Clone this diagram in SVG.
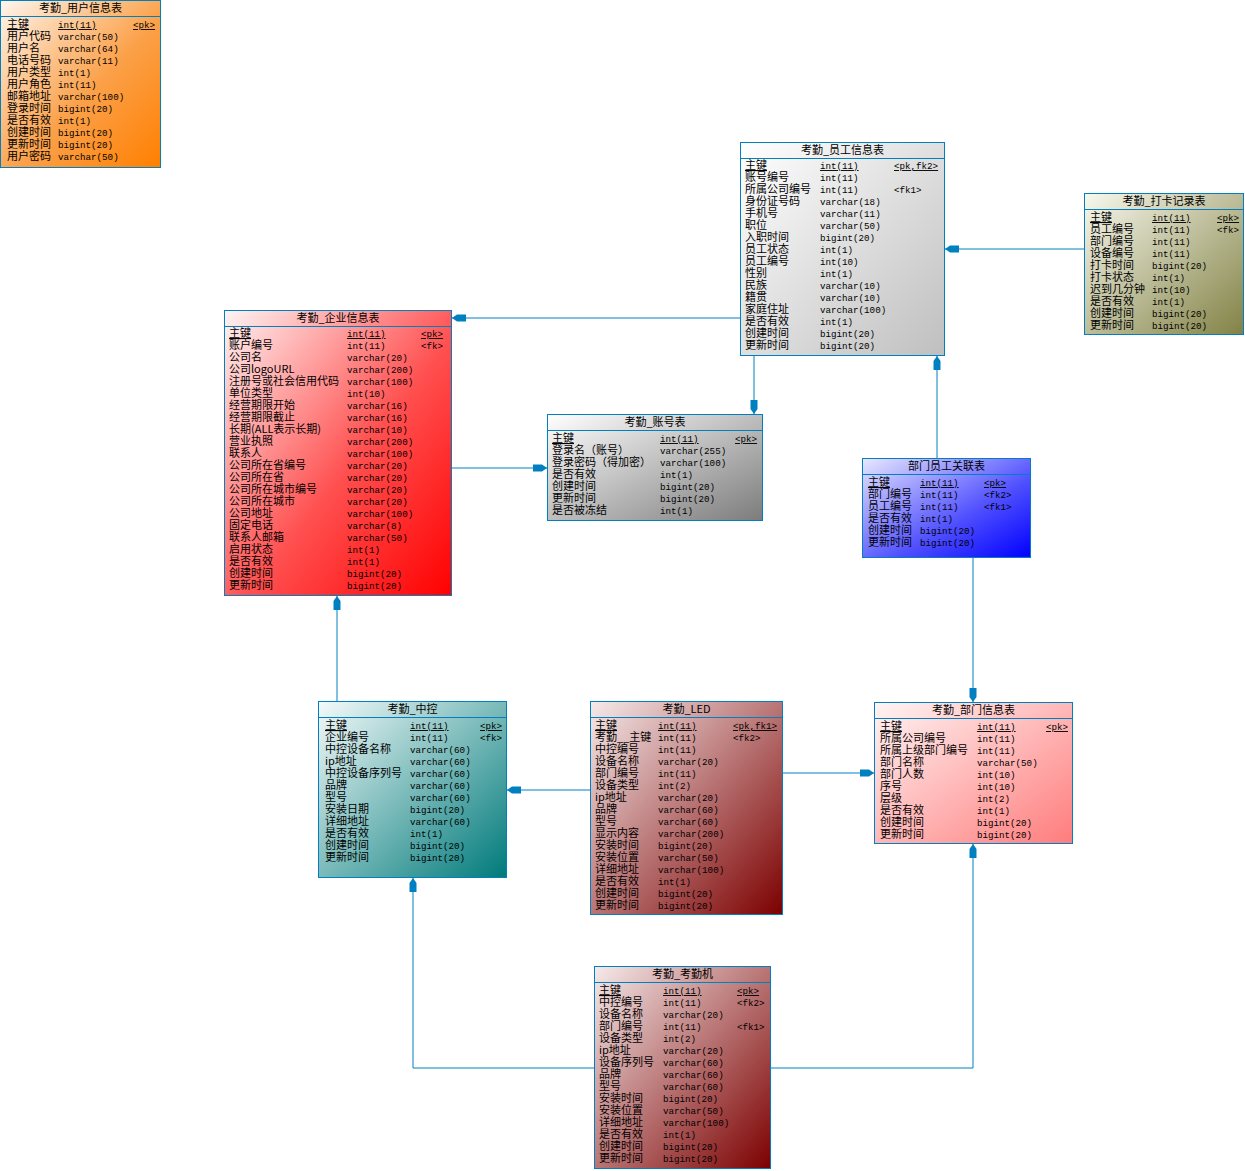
<svg xmlns="http://www.w3.org/2000/svg" width="1245" height="1171" viewBox="0 0 1245 1171">
<style>
.box{stroke:#0080c0;stroke-width:1}
.sep{stroke:#0080c0;stroke-width:1}
.t{font-family:"Noto Sans CJK SC","Liberation Sans",sans-serif;font-size:11px;fill:#000;text-anchor:middle}
.n{font-family:"Noto Sans CJK SC","Liberation Sans",sans-serif;font-size:11px;fill:#000}
.ty,.k{font-family:"Liberation Mono","Noto Sans CJK SC",monospace;font-size:9.2px;fill:#000}
.u{text-decoration:underline}
.c{fill:none;stroke:#0080c0;stroke-width:1}
</style>
<defs>
<linearGradient id="gOr" x1="0" y1="0" x2="1" y2="1"><stop offset="0" stop-color="#fff6ee"/><stop offset="0.55" stop-color="#fba14a"/><stop offset="1" stop-color="#ff7f00"/></linearGradient>
<linearGradient id="gGy" x1="0" y1="0" x2="1" y2="1"><stop offset="0" stop-color="#ffffff"/><stop offset="1" stop-color="#bfbfbf"/></linearGradient>
<linearGradient id="gOl" x1="0" y1="0" x2="1" y2="1"><stop offset="0" stop-color="#f8f8ee"/><stop offset="1" stop-color="#828246"/></linearGradient>
<linearGradient id="gRd" x1="0" y1="0" x2="1" y2="1"><stop offset="0" stop-color="#fff4f4"/><stop offset="0.55" stop-color="#ff5050"/><stop offset="1" stop-color="#ff0000"/></linearGradient>
<linearGradient id="gDg" x1="0" y1="0" x2="1" y2="1"><stop offset="0" stop-color="#ffffff"/><stop offset="1" stop-color="#7c7c7c"/></linearGradient>
<linearGradient id="gBl" x1="0" y1="0" x2="1" y2="1"><stop offset="0" stop-color="#e8e8ff"/><stop offset="0.6" stop-color="#5050ff"/><stop offset="1" stop-color="#0000ff"/></linearGradient>
<linearGradient id="gTl" x1="0" y1="0" x2="1" y2="1"><stop offset="0" stop-color="#f4fafa"/><stop offset="1" stop-color="#007a7a"/></linearGradient>
<linearGradient id="gMr" x1="0" y1="0" x2="1" y2="1"><stop offset="0" stop-color="#f6eaea"/><stop offset="1" stop-color="#7c0000"/></linearGradient>
<linearGradient id="gPk" x1="0" y1="0" x2="1" y2="1"><stop offset="0" stop-color="#fff4f4"/><stop offset="1" stop-color="#ff7c7c"/></linearGradient>
<marker id="ar" viewBox="0 0 14 8" refX="14" refY="4" markerWidth="14" markerHeight="8" markerUnits="userSpaceOnUse" orient="auto">
<path d="M14,4 L9,0.5 L0,0.5 L0,7.5 L9,7.5 Z" fill="#0080c0"/>
</marker>
</defs>
<rect width="1245" height="1171" fill="#ffffff"/>

<g id="connectors">
<path class="c" d="M740,318 H452" marker-end="url(#ar)"/>
<path class="c" d="M452,468 H547" marker-end="url(#ar)"/>
<path class="c" d="M754,356 V414" marker-end="url(#ar)"/>
<path class="c" d="M1084,249 H945" marker-end="url(#ar)"/>
<path class="c" d="M937,458 V356" marker-end="url(#ar)"/>
<path class="c" d="M973,558 V702" marker-end="url(#ar)"/>
<path class="c" d="M337,701 V596" marker-end="url(#ar)"/>
<path class="c" d="M590,790 H507" marker-end="url(#ar)"/>
<path class="c" d="M783,773 H874" marker-end="url(#ar)"/>
<path class="c" d="M594,1068 H413 V878" marker-end="url(#ar)"/>
<path class="c" d="M771,1068 H973 V844" marker-end="url(#ar)"/>
</g>

<g id="users">
<rect class="box" x="0.5" y="0.5" width="160" height="167" fill="url(#gOr)"/>
<line class="sep" x1="0.5" y1="16.5" x2="160.5" y2="16.5"/>
<text class="t" x="80.5" y="12">考勤_用户信息表</text>
<g class="n"><text x="7" y="28" class="u">主键</text><text x="7" y="40">用户代码</text><text x="7" y="52">用户名</text><text x="7" y="64">电话号码</text><text x="7" y="76">用户类型</text><text x="7" y="88">用户角色</text><text x="7" y="100">邮箱地址</text><text x="7" y="112">登录时间</text><text x="7" y="124">是否有效</text><text x="7" y="136">创建时间</text><text x="7" y="148">更新时间</text><text x="7" y="160">用户密码</text></g>
<g class="ty"><text x="58" y="28" class="u">int(11)</text><text x="58" y="40">varchar(50)</text><text x="58" y="52">varchar(64)</text><text x="58" y="64">varchar(11)</text><text x="58" y="76">int(1)</text><text x="58" y="88">int(11)</text><text x="58" y="100">varchar(100)</text><text x="58" y="112">bigint(20)</text><text x="58" y="124">int(1)</text><text x="58" y="136">bigint(20)</text><text x="58" y="148">bigint(20)</text><text x="58" y="160">varchar(50)</text></g>
<g class="k"><text x="133" y="28" class="u">&lt;pk&gt;</text></g>
</g>

<g id="employee">
<rect class="box" x="740.5" y="142.5" width="204" height="213" fill="url(#gGy)"/>
<line class="sep" x1="740.5" y1="158.5" x2="944.5" y2="158.5"/>
<text class="t" x="842.5" y="154">考勤_员工信息表</text>
<g class="n"><text x="745" y="169" class="u">主键</text><text x="745" y="181">账号编号</text><text x="745" y="193">所属公司编号</text><text x="745" y="205">身份证号码</text><text x="745" y="217">手机号</text><text x="745" y="229">职位</text><text x="745" y="241">入职时间</text><text x="745" y="253">员工状态</text><text x="745" y="265">员工编号</text><text x="745" y="277">性别</text><text x="745" y="289">民族</text><text x="745" y="301">籍贯</text><text x="745" y="313">家庭住址</text><text x="745" y="325">是否有效</text><text x="745" y="337">创建时间</text><text x="745" y="349">更新时间</text></g>
<g class="ty"><text x="820" y="169" class="u">int(11)</text><text x="820" y="181">int(11)</text><text x="820" y="193">int(11)</text><text x="820" y="205">varchar(18)</text><text x="820" y="217">varchar(11)</text><text x="820" y="229">varchar(50)</text><text x="820" y="241">bigint(20)</text><text x="820" y="253">int(1)</text><text x="820" y="265">int(10)</text><text x="820" y="277">int(1)</text><text x="820" y="289">varchar(10)</text><text x="820" y="301">varchar(10)</text><text x="820" y="313">varchar(100)</text><text x="820" y="325">int(1)</text><text x="820" y="337">bigint(20)</text><text x="820" y="349">bigint(20)</text></g>
<g class="k"><text x="894" y="169" class="u">&lt;pk,fk2&gt;</text><text x="894" y="193">&lt;fk1&gt;</text></g>
</g>

<g id="punch">
<rect class="box" x="1084.5" y="193.5" width="159" height="141" fill="url(#gOl)"/>
<line class="sep" x1="1084.5" y1="209.5" x2="1243.5" y2="209.5"/>
<text class="t" x="1164" y="205">考勤_打卡记录表</text>
<g class="n"><text x="1090" y="221" class="u">主键</text><text x="1090" y="233">员工编号</text><text x="1090" y="245">部门编号</text><text x="1090" y="257">设备编号</text><text x="1090" y="269">打卡时间</text><text x="1090" y="281">打卡状态</text><text x="1090" y="293">迟到几分钟</text><text x="1090" y="305">是否有效</text><text x="1090" y="317">创建时间</text><text x="1090" y="329">更新时间</text></g>
<g class="ty"><text x="1152" y="221" class="u">int(11)</text><text x="1152" y="233">int(11)</text><text x="1152" y="245">int(11)</text><text x="1152" y="257">int(11)</text><text x="1152" y="269">bigint(20)</text><text x="1152" y="281">int(1)</text><text x="1152" y="293">int(10)</text><text x="1152" y="305">int(1)</text><text x="1152" y="317">bigint(20)</text><text x="1152" y="329">bigint(20)</text></g>
<g class="k"><text x="1217" y="221" class="u">&lt;pk&gt;</text><text x="1217" y="233">&lt;fk&gt;</text></g>
</g>

<g id="enterprise">
<rect class="box" x="224.5" y="310.5" width="227" height="285" fill="url(#gRd)"/>
<line class="sep" x1="224.5" y1="326.5" x2="451.5" y2="326.5"/>
<text class="t" x="338" y="322">考勤_企业信息表</text>
<g class="n"><text x="229" y="337" class="u">主键</text><text x="229" y="349">账户编号</text><text x="229" y="361">公司名</text><text x="229" y="373">公司logoURL</text><text x="229" y="385">注册号或社会信用代码</text><text x="229" y="397">单位类型</text><text x="229" y="409">经营期限开始</text><text x="229" y="421">经营期限截止</text><text x="229" y="433">长期(ALL表示长期)</text><text x="229" y="445">营业执照</text><text x="229" y="457">联系人</text><text x="229" y="469">公司所在省编号</text><text x="229" y="481">公司所在省</text><text x="229" y="493">公司所在城市编号</text><text x="229" y="505">公司所在城市</text><text x="229" y="517">公司地址</text><text x="229" y="529">固定电话</text><text x="229" y="541">联系人邮箱</text><text x="229" y="553">启用状态</text><text x="229" y="565">是否有效</text><text x="229" y="577">创建时间</text><text x="229" y="589">更新时间</text></g>
<g class="ty"><text x="347" y="337" class="u">int(11)</text><text x="347" y="349">int(11)</text><text x="347" y="361">varchar(20)</text><text x="347" y="373">varchar(200)</text><text x="347" y="385">varchar(100)</text><text x="347" y="397">int(10)</text><text x="347" y="409">varchar(16)</text><text x="347" y="421">varchar(16)</text><text x="347" y="433">varchar(10)</text><text x="347" y="445">varchar(200)</text><text x="347" y="457">varchar(100)</text><text x="347" y="469">varchar(20)</text><text x="347" y="481">varchar(20)</text><text x="347" y="493">varchar(20)</text><text x="347" y="505">varchar(20)</text><text x="347" y="517">varchar(100)</text><text x="347" y="529">varchar(8)</text><text x="347" y="541">varchar(50)</text><text x="347" y="553">int(1)</text><text x="347" y="565">int(1)</text><text x="347" y="577">bigint(20)</text><text x="347" y="589">bigint(20)</text></g>
<g class="k"><text x="421" y="337" class="u">&lt;pk&gt;</text><text x="421" y="349">&lt;fk&gt;</text></g>
</g>

<g id="account">
<rect class="box" x="547.5" y="414.5" width="215" height="106" fill="url(#gDg)"/>
<line class="sep" x1="547.5" y1="430.5" x2="762.5" y2="430.5"/>
<text class="t" x="655" y="426">考勤_账号表</text>
<g class="n"><text x="552" y="442" class="u">主键</text><text x="552" y="454">登录名（账号）</text><text x="552" y="466">登录密码（得加密）</text><text x="552" y="478">是否有效</text><text x="552" y="490">创建时间</text><text x="552" y="502">更新时间</text><text x="552" y="514">是否被冻结</text></g>
<g class="ty"><text x="660" y="442" class="u">int(11)</text><text x="660" y="454">varchar(255)</text><text x="660" y="466">varchar(100)</text><text x="660" y="478">int(1)</text><text x="660" y="490">bigint(20)</text><text x="660" y="502">bigint(20)</text><text x="660" y="514">int(1)</text></g>
<g class="k"><text x="735" y="442" class="u">&lt;pk&gt;</text></g>
</g>

<g id="deptemp">
<rect class="box" x="862.5" y="458.5" width="168" height="99" fill="url(#gBl)"/>
<line class="sep" x1="862.5" y1="474.5" x2="1030.5" y2="474.5"/>
<text class="t" x="946.5" y="470">部门员工关联表</text>
<g class="n"><text x="868" y="486" class="u">主键</text><text x="868" y="498">部门编号</text><text x="868" y="510">员工编号</text><text x="868" y="522">是否有效</text><text x="868" y="534">创建时间</text><text x="868" y="546">更新时间</text></g>
<g class="ty"><text x="920" y="486" class="u">int(11)</text><text x="920" y="498">int(11)</text><text x="920" y="510">int(11)</text><text x="920" y="522">int(1)</text><text x="920" y="534">bigint(20)</text><text x="920" y="546">bigint(20)</text></g>
<g class="k"><text x="984" y="486" class="u">&lt;pk&gt;</text><text x="984" y="498">&lt;fk2&gt;</text><text x="984" y="510">&lt;fk1&gt;</text></g>
</g>

<g id="central">
<rect class="box" x="318.5" y="701.5" width="188" height="176" fill="url(#gTl)"/>
<line class="sep" x1="318.5" y1="717.5" x2="506.5" y2="717.5"/>
<text class="t" x="412.5" y="713">考勤_中控</text>
<g class="n"><text x="325" y="729" class="u">主键</text><text x="325" y="741">企业编号</text><text x="325" y="753">中控设备名称</text><text x="325" y="765">ip地址</text><text x="325" y="777">中控设备序列号</text><text x="325" y="789">品牌</text><text x="325" y="801">型号</text><text x="325" y="813">安装日期</text><text x="325" y="825">详细地址</text><text x="325" y="837">是否有效</text><text x="325" y="849">创建时间</text><text x="325" y="861">更新时间</text></g>
<g class="ty"><text x="410" y="729" class="u">int(11)</text><text x="410" y="741">int(11)</text><text x="410" y="753">varchar(60)</text><text x="410" y="765">varchar(60)</text><text x="410" y="777">varchar(60)</text><text x="410" y="789">varchar(60)</text><text x="410" y="801">varchar(60)</text><text x="410" y="813">bigint(20)</text><text x="410" y="825">varchar(60)</text><text x="410" y="837">int(1)</text><text x="410" y="849">bigint(20)</text><text x="410" y="861">bigint(20)</text></g>
<g class="k"><text x="480" y="729" class="u">&lt;pk&gt;</text><text x="480" y="741">&lt;fk&gt;</text></g>
</g>

<g id="led">
<rect class="box" x="590.5" y="701.5" width="192" height="213" fill="url(#gMr)"/>
<line class="sep" x1="590.5" y1="717.5" x2="782.5" y2="717.5"/>
<text class="t" x="686.5" y="713">考勤_LED</text>
<g class="n"><text x="595" y="729" class="u">主键</text><text x="595" y="741">考勤__主键</text><text x="595" y="753">中控编号</text><text x="595" y="765">设备名称</text><text x="595" y="777">部门编号</text><text x="595" y="789">设备类型</text><text x="595" y="801">ip地址</text><text x="595" y="813">品牌</text><text x="595" y="825">型号</text><text x="595" y="837">显示内容</text><text x="595" y="849">安装时间</text><text x="595" y="861">安装位置</text><text x="595" y="873">详细地址</text><text x="595" y="885">是否有效</text><text x="595" y="897">创建时间</text><text x="595" y="909">更新时间</text></g>
<g class="ty"><text x="658" y="729" class="u">int(11)</text><text x="658" y="741">int(11)</text><text x="658" y="753">int(11)</text><text x="658" y="765">varchar(20)</text><text x="658" y="777">int(11)</text><text x="658" y="789">int(2)</text><text x="658" y="801">varchar(20)</text><text x="658" y="813">varchar(60)</text><text x="658" y="825">varchar(60)</text><text x="658" y="837">varchar(200)</text><text x="658" y="849">bigint(20)</text><text x="658" y="861">varchar(50)</text><text x="658" y="873">varchar(100)</text><text x="658" y="885">int(1)</text><text x="658" y="897">bigint(20)</text><text x="658" y="909">bigint(20)</text></g>
<g class="k"><text x="733" y="729" class="u">&lt;pk,fk1&gt;</text><text x="733" y="741">&lt;fk2&gt;</text></g>
</g>

<g id="dept">
<rect class="box" x="874.5" y="702.5" width="198" height="141" fill="url(#gPk)"/>
<line class="sep" x1="874.5" y1="718.5" x2="1072.5" y2="718.5"/>
<text class="t" x="973.5" y="714">考勤_部门信息表</text>
<g class="n"><text x="880" y="730" class="u">主键</text><text x="880" y="742">所属公司编号</text><text x="880" y="754">所属上级部门编号</text><text x="880" y="766">部门名称</text><text x="880" y="778">部门人数</text><text x="880" y="790">序号</text><text x="880" y="802">层级</text><text x="880" y="814">是否有效</text><text x="880" y="826">创建时间</text><text x="880" y="838">更新时间</text></g>
<g class="ty"><text x="977" y="730" class="u">int(11)</text><text x="977" y="742">int(11)</text><text x="977" y="754">int(11)</text><text x="977" y="766">varchar(50)</text><text x="977" y="778">int(10)</text><text x="977" y="790">int(10)</text><text x="977" y="802">int(2)</text><text x="977" y="814">int(1)</text><text x="977" y="826">bigint(20)</text><text x="977" y="838">bigint(20)</text></g>
<g class="k"><text x="1046" y="730" class="u">&lt;pk&gt;</text></g>
</g>

<g id="machine">
<rect class="box" x="594.5" y="966.5" width="176" height="202" fill="url(#gMr)"/>
<line class="sep" x1="594.5" y1="982.5" x2="770.5" y2="982.5"/>
<text class="t" x="682.5" y="978">考勤_考勤机</text>
<g class="n"><text x="599" y="994" class="u">主键</text><text x="599" y="1006">中控编号</text><text x="599" y="1018">设备名称</text><text x="599" y="1030">部门编号</text><text x="599" y="1042">设备类型</text><text x="599" y="1054">ip地址</text><text x="599" y="1066">设备序列号</text><text x="599" y="1078">品牌</text><text x="599" y="1090">型号</text><text x="599" y="1102">安装时间</text><text x="599" y="1114">安装位置</text><text x="599" y="1126">详细地址</text><text x="599" y="1138">是否有效</text><text x="599" y="1150">创建时间</text><text x="599" y="1162">更新时间</text></g>
<g class="ty"><text x="663" y="994" class="u">int(11)</text><text x="663" y="1006">int(11)</text><text x="663" y="1018">varchar(20)</text><text x="663" y="1030">int(11)</text><text x="663" y="1042">int(2)</text><text x="663" y="1054">varchar(20)</text><text x="663" y="1066">varchar(60)</text><text x="663" y="1078">varchar(60)</text><text x="663" y="1090">varchar(60)</text><text x="663" y="1102">bigint(20)</text><text x="663" y="1114">varchar(50)</text><text x="663" y="1126">varchar(100)</text><text x="663" y="1138">int(1)</text><text x="663" y="1150">bigint(20)</text><text x="663" y="1162">bigint(20)</text></g>
<g class="k"><text x="737" y="994" class="u">&lt;pk&gt;</text><text x="737" y="1006">&lt;fk2&gt;</text><text x="737" y="1030">&lt;fk1&gt;</text></g>
</g>
</svg>
